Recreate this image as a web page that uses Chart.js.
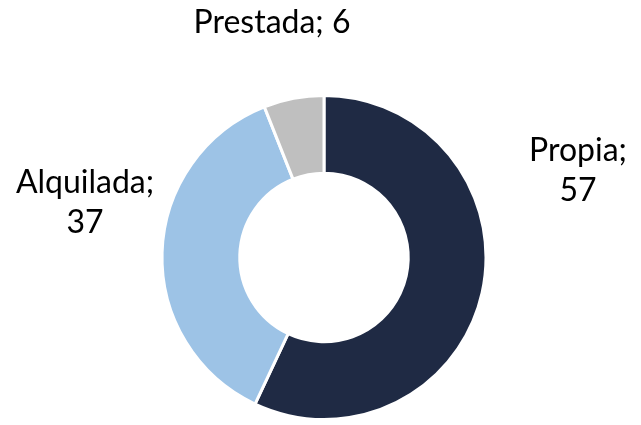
<!DOCTYPE html>
<html>
<head>
<meta charset="utf-8">
<script src="https://cdn.jsdelivr.net/npm/chart.js@4"></script>
<style>
  html, body { margin: 0; padding: 0; background: #fff; }
  #wrap { width: 641px; height: 425px; position: relative; }
</style>
</head>
<body>
<div id="wrap"><canvas id="chartTenencia"></canvas></div>
<script>
// Données
const categories = ['Propia', 'Alquilada', 'Prestada'];
const valores = [57, 37, 6];
const colores = ['#1f2a44', '#9dc3e6', '#bfbfbf'];

// Position des étiquettes, relative au centre du graphique (dx, dy)
const posEtiquettes = [[254, -87], [-239, -55], [-52, -235]];
const lignesEtiquettes = [['Propia;', '57'], ['Alquilada;', '37'], ['Prestada; 6']];

// Plugin pour dessiner les étiquettes externes
const etiquettes = {
  id: 'etiquettes',
  afterDraw(chart) {
    const ctx = chart.ctx;
    const arc = chart.getDatasetMeta(0).data[0];
    if (!arc) return;
    const cx = arc.x, cy = arc.y;
    ctx.save();
    ctx.fillStyle = '#000';
    ctx.font = '32px Lato, "Open Sans", sans-serif';
    ctx.textAlign = 'center';
    ctx.textBaseline = 'middle';
    const lh = 40;
    lignesEtiquettes.forEach((lignes, i) => {
      const [dx, dy] = posEtiquettes[i];
      const y0 = cy + dy - (lignes.length - 1) * lh / 2;
      lignes.forEach((t, j) => ctx.fillText(t, cx + dx, y0 + j * lh));
    });
    ctx.restore();
  }
};

new Chart(document.getElementById('chartTenencia'), {
  type: 'doughnut',
  data: {
    labels: categories,
    datasets: [{
      data: valores,
      backgroundColor: colores,
      borderColor: '#ffffff',
      borderWidth: 3
    }]
  },
  options: {
    responsive: true,
    maintainAspectRatio: false,
    animation: false,
    cutout: '52%',
    layout: { padding: { top: 94, bottom: 4, left: 87, right: 80 } },
    plugins: {
      legend: { display: false },
      tooltip: { enabled: false }
    }
  },
  plugins: [etiquettes]
});
</script>
</body>
</html>
